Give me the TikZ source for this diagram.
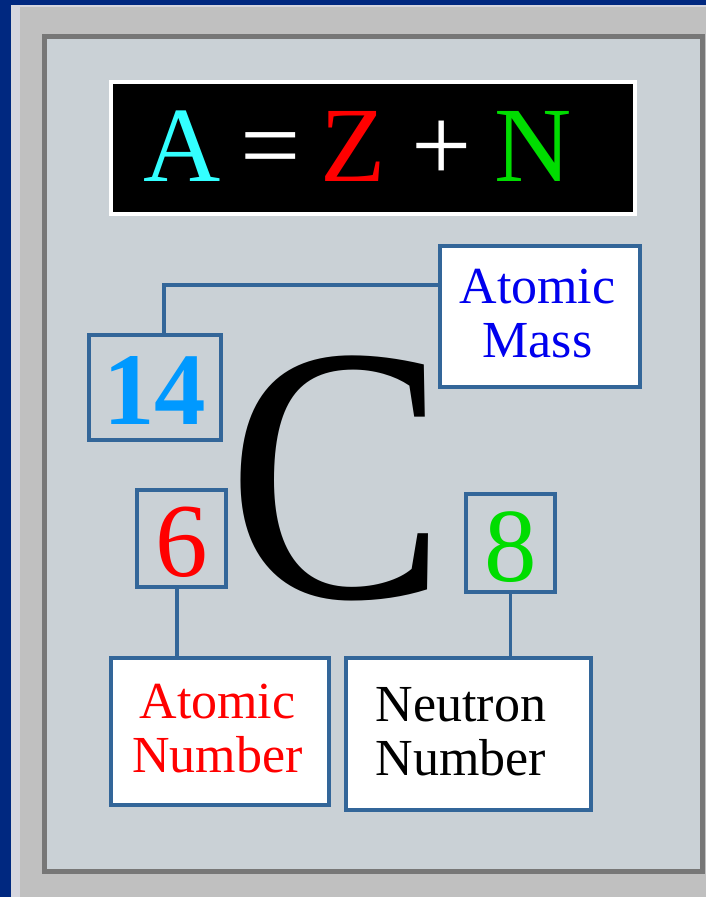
\documentclass[tikz,border=0pt]{standalone}
\usepackage{fontspec}
\setmainfont{Liberation Serif}
\definecolor{winblue}{RGB}{0,40,128}
\definecolor{outergray}{RGB}{192,192,192}
\definecolor{stripgray}{RGB}{214,214,222}
\definecolor{panel}{RGB}{202,209,214}
\definecolor{framegray}{RGB}{119,119,119}
\definecolor{boxblue}{RGB}{51,102,153}
\definecolor{massblue}{RGB}{0,0,238}
\definecolor{numblue}{RGB}{0,153,255}
\definecolor{cyanA}{RGB}{51,255,255}
\definecolor{redZ}{RGB}{255,0,0}
\definecolor{greenN}{RGB}{0,221,0}
\begin{document}
\begin{tikzpicture}[x=1pt,y=-1pt,
  box/.style={draw=boxblue,line width=4pt,inner sep=0pt},
  wire/.style={draw=boxblue,line width=3.5pt},
  lbl/.style={align=center,inner sep=0pt,font=\fontsize{52}{54}\selectfont},
  eq/.style={anchor=base,inner sep=0pt,font=\fontsize{107}{110}\selectfont},
  digit/.style={anchor=base,inner sep=0pt,font=\fontsize{105}{108}\selectfont},
]
\useasboundingbox (0,0) rectangle (706,897);
% window background
\fill[outergray] (0,0) rectangle (706,897);
\fill[stripgray] (11,5) rectangle (20,897);
\fill[stripgray] (11,5) rectangle (706,7);
\fill[winblue] (0,0) rectangle (11,897);
\fill[winblue] (0,0) rectangle (706,5);
% panel
\fill[panel] (42,34) rectangle (705,874);
\draw[framegray,line width=5pt] (44.5,36.5) rectangle (702.5,871.5);

% equation
\node[fill=black,draw=white,line width=4pt,minimum width=524,minimum height=132,inner sep=0pt] (eqbox) at (373,148) {};
\node[eq,text=cyanA] (eA) at (182,181) {A};
\node[eq,text=white] (eEq) at (271,181) {=};
\node[eq,text=redZ] (eZ) at (353,181) {Z};
\node[eq,text=white] (ePlus) at (441.5,181) {+};
\node[eq,text=greenN] (eN) at (533,181) {N};

% big C
\node[anchor=base,inner sep=0pt,font=\fontsize{365}{370}\selectfont] (bigC) at (337,597) {\scalebox{0.9}[1]{C}};

% boxes
\node[box,fill=white,minimum width=200,minimum height=141] (am) at (540,316.5) {};
\node[lbl,text=massblue] (amt) at (537.5,313.25) {Atomic\\Mass};

\node[box,minimum width=132,minimum height=105] (b14) at (155,387.5) {};
\node[anchor=base,inner sep=0pt,font=\bfseries\fontsize{103}{106}\selectfont,text=numblue] (t14) at (154.5,424) {14};

\node[box,minimum width=89,minimum height=97] (b6) at (181.5,538.5) {};
\node[digit,text=redZ] (t6) at (182,576) {6};

\node[box,minimum width=89,minimum height=98] (b8) at (510.5,543) {};
\node[digit,text=greenN] (t8) at (510.5,581) {8};

\node[box,fill=white,minimum width=218,minimum height=147] (an) at (220,731.5) {};
\node[lbl,text=redZ] (ant) at (217.5,728.25) {Atomic\\Number};

\node[box,fill=white,minimum width=245,minimum height=152] (nn) at (468.5,734) {};
\node[lbl,text=black] (nnt) at (461,731.8) {Neutron\\Number};

% connectors
\draw[wire] ([yshift=31.5pt]am.west) -| ([xshift=9pt]b14.north);
\draw[wire] ([xshift=-4.5pt]b6.south) -- ([xshift=-4.5pt]b6.south |- an.north);
\draw[wire] (b8.south) -- (b8.south |- nn.north);
\end{tikzpicture}
\end{document}
